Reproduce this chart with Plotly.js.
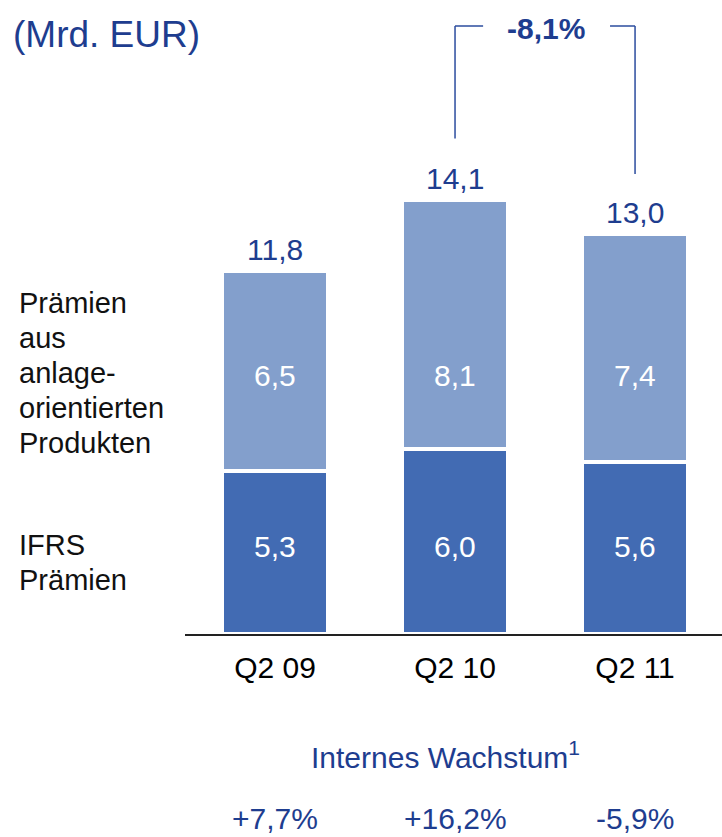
<!DOCTYPE html>
<html>
<head>
<meta charset="utf-8">
<script src="https://cdn.plot.ly/plotly-3.0.1.min.js"></script>
<style>html,body{margin:0;padding:0;background:#fff;}#chart{width:722px;height:837px;}</style>
</head>
<body>
<div id="chart"></div>
<script>
// ---- data ----
const categories = ["Q2 09", "Q2 10", "Q2 11"];
const ifrsPraemien = [5.3, 6.0, 5.6];
const anlagePraemien = [6.5, 8.1, 7.4];
const totals = [11.8, 14.1, 13.0];
const growthLabels = ["+7,7%", "+16,2%", "-5,9%"];
const changeLabel = "-8,1%";
const anlageLabelLines = ["Prämien", "aus", "anlage-", "orientierten", "Produkten"];
const ifrsLabelLines = ["IFRS", "Prämien"];
const seriesNames = ["IFRS Prämien", "Prämien aus anlage-orientierten Produkten"];

// ---- styles ----
const FONT = "Liberation Sans, Arial, sans-serif";
const BLUE_TXT = "#1e3d8f";
const DARK = "#426bb3";
const LIGHT = "#839fcc";
const fmt = v => v.toFixed(1).replace(".", ",");

const pxPerUnit = 30.77;
const plotH = 634;
const yMax = plotH / pxPerUnit;
const py = p => (plotH - p) / plotH;      // pixel -> paper y
const pyData = p => (plotH - p) / pxPerUnit; // pixel -> data y

const traces = [
  {type: "bar", x: categories, y: ifrsPraemien, name: seriesNames[0], width: 0.585,
   marker: {color: DARK, line: {color: "#ffffff", width: 4}}, hoverinfo: "none"},
  {type: "bar", x: categories, y: anlagePraemien, name: seriesNames[1], width: 0.585,
   marker: {color: LIGHT, line: {color: "#ffffff", width: 4}}, hoverinfo: "none"}
];

const annotations = [];
categories.forEach((c, i) => {
  annotations.push({x: c, y: totals[i], xref: "x", yref: "y", yanchor: "bottom", yshift: 3,
    text: fmt(totals[i]), showarrow: false, font: {family: FONT, size: 30, color: BLUE_TXT}});
  annotations.push({x: c, y: pyData(375), xref: "x", yref: "y", yanchor: "middle",
    text: fmt(anlagePraemien[i]), showarrow: false, font: {family: FONT, size: 30, color: "#ffffff"}});
  annotations.push({x: c, y: pyData(546), xref: "x", yref: "y", yanchor: "middle",
    text: fmt(ifrsPraemien[i]), showarrow: false, font: {family: FONT, size: 30, color: "#ffffff"}});
  annotations.push({x: c, y: py(818), xref: "x", yref: "paper", yanchor: "middle",
    text: growthLabels[i], showarrow: false, font: {family: FONT, size: 30, color: BLUE_TXT}});
});
annotations.push({x: 0, xshift: -174, xanchor: "left", xref: "paper", y: py(35), yref: "paper", yanchor: "middle",
  text: "(Mrd. EUR)", showarrow: false, font: {family: FONT, size: 37, color: BLUE_TXT}});
anlageLabelLines.forEach((t, k) => {
  annotations.push({x: 0, xshift: -168, xanchor: "left", xref: "paper", y: py(303 + 35 * k), yref: "paper", yanchor: "middle",
    text: t, showarrow: false, font: {family: FONT, size: 29, color: "#111111"}});
});
ifrsLabelLines.forEach((t, k) => {
  annotations.push({x: 0, xshift: -168, xanchor: "left", xref: "paper", y: py(545 + 35 * k), yref: "paper", yanchor: "middle",
    text: t, showarrow: false, font: {family: FONT, size: 29, color: "#111111"}});
});
annotations.push({x: (445 - 185) / 537, xref: "paper", y: py(755), yref: "paper", yanchor: "middle",
  text: "Internes Wachstum<sup>1</sup>", showarrow: false, font: {family: FONT, size: 30, color: BLUE_TXT}});

const topY = pyData(26);
annotations.push({x: 1.506, xref: "x", y: topY, yref: "y", yanchor: "middle", yshift: -2,
  text: "<b>" + changeLabel + "</b>", showarrow: false, font: {family: FONT, size: 30, color: BLUE_TXT}});

const lineStyle = {color: "#2b4c9e", width: 1.5};
const shapes = [
  {type: "line", xref: "x", yref: "y", x0: 1, x1: 1, y0: totals[1] + 2.0, y1: topY, line: lineStyle},
  {type: "line", xref: "x", yref: "y", x0: 1, x1: 1.156, y0: topY, y1: topY, line: lineStyle},
  {type: "line", xref: "x", yref: "y", x0: 2, x1: 2, y0: totals[2] + 1.95, y1: topY, line: lineStyle},
  {type: "line", xref: "x", yref: "y", x0: 1.861, x1: 2, y0: topY, y1: topY, line: lineStyle}
];

const layout = {
  width: 722, height: 837,
  margin: {l: 185, r: 0, t: 0, b: 203, pad: 0},
  barmode: "stack",
  showlegend: false,
  paper_bgcolor: "#ffffff", plot_bgcolor: "#ffffff",
  xaxis: {type: "category", range: [-0.5, 2.483], showline: true, linecolor: "#222222", linewidth: 2,
    ticks: "", showgrid: false, zeroline: false, ticklabelstandoff: 6,
    tickfont: {family: FONT, size: 30, color: "#000000"}},
  yaxis: {range: [0, yMax], visible: false, showgrid: false, zeroline: false},
  annotations: annotations,
  shapes: shapes
};

Plotly.newPlot("chart", traces, layout, {staticPlot: true, displayModeBar: false});
</script>
</body>
</html>
